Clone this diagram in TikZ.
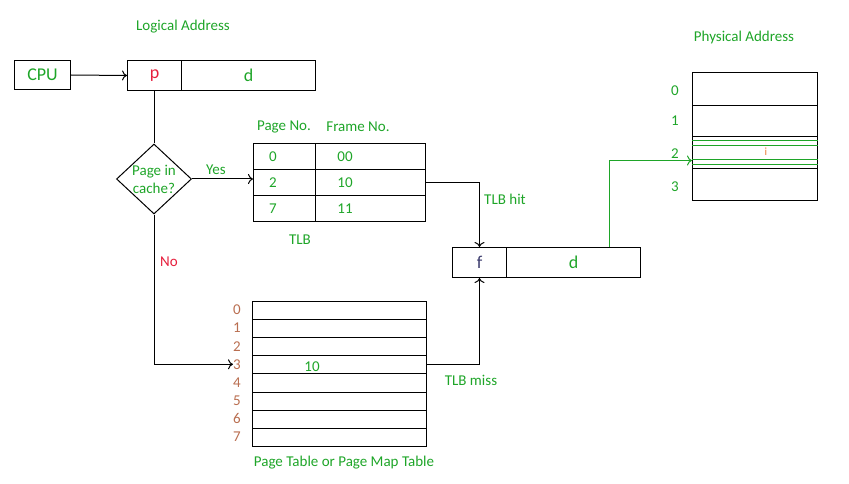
\documentclass[tikz,border=0pt]{standalone}
\usepackage{fontspec}
\setmainfont{Carlito}
\usetikzlibrary{shapes.geometric,arrows.meta}
\definecolor{tgreen}{RGB}{30,165,40}
\definecolor{tred}{RGB}{230,30,60}
\definecolor{tbrown}{RGB}{185,110,80}
\definecolor{fblue}{RGB}{60,60,110}
\definecolor{torange}{RGB}{235,120,50}
\tikzset{
  cell/.style={draw, line width=1pt, anchor=north west, inner sep=0pt},
  lbl/.style={text=tgreen, font=\fontsize{15}{18}\selectfont, inner sep=0pt},
  big/.style={font=\fontsize{18}{20}\selectfont, inner sep=0pt},
  idx/.style={text=tbrown, font=\fontsize{15}{17}\selectfont, inner sep=0pt},
  wire/.style={line width=1pt, ->},
}
\begin{document}
\begin{tikzpicture}[x=1pt, y=-1pt, >={To[length=5pt,width=10pt]}]
\useasboundingbox (0,0) rectangle (849,484);

% ---------- CPU and logical address ----------
\node[cell, big, text=tgreen, minimum width=56pt, minimum height=29pt] (cpu) at (14,60) {CPU};
\node[cell, big, text=tred, minimum width=54pt, minimum height=30pt] (lp) at (127,60) {p};
\node[cell, big, text=tgreen, minimum width=134pt, minimum height=30pt] (ld) at (181,60) {d};
\node[lbl] (logaddr) at (183,27) {Logical Address};
\draw[wire] (cpu.east) -- (lp.west);

% ---------- decision ----------
\node[draw, diamond, line width=1pt, minimum width=75pt, minimum height=70pt, inner sep=0pt] (q) at (154,179) {};
\node[lbl, align=center] (qtxt) at (q) {Page in\\cache?};
\draw[line width=1pt] (lp.south) -- (lp.south |- q.north);

% ---------- TLB ----------
\node[lbl] (hpage) at (284,127) {Page No.};
\node[lbl] (hframe) at (358,127) {Frame No.};
\foreach \i/\p/\f in {0/0/00,1/2/10,2/7/11} {
  \node[cell, minimum width=62pt, minimum height=26pt] (tp\i) at (253,143+26*\i) {};
  \node[cell, minimum width=110pt, minimum height=26pt] (tf\i) at (315,143+26*\i) {};
  \node[lbl] (tpn\i) at ([xshift=20pt]tp\i.west) {\p};
  \node[lbl] (tfn\i) at ([xshift=30pt]tf\i.west) {\f};
}
\node[lbl] (tlbname) at (300,240) {TLB};
\draw[wire] (q.east) -- (q.east -| tp1.west);
\node[lbl] (yes) at (216,170) {Yes};

% ---------- frame + offset ----------
\node[cell, big, text=fblue, minimum width=54pt, minimum height=30pt] (ff) at (452,247) {f};
\node[cell, big, text=tgreen, minimum width=134pt, minimum height=30pt] (fd) at (506,247) {d};
\draw[wire] (tf1.east) -| (ff.north);
\node[lbl] (hit) at (505,199) {TLB hit};

% ---------- page table ----------
\foreach \i in {0,...,7} {
  \node[cell, minimum width=174pt, minimum height=18.1pt] (pt\i) at (252,301+18.1*\i) {};
  \node[idx] (pi\i) at (237,310+18.1*\i) {\i};
}
\node[lbl] (ptval) at (312,367) {10};
\node[lbl] (ptname) at (344,463) {Page Table or Page Map Table};
\draw[wire] (q.south) |- (pi3.west);
\node[lbl, text=tred] (no) at (169,262) {No};
\draw[wire] (pt3.east) -| (ff.south);
\node[lbl] (miss) at (471,380) {TLB miss};

% ---------- physical memory ----------
\node[lbl] (physaddr) at (744,38) {Physical Address};
\node[cell, minimum width=125pt, minimum height=33pt] (m0) at (692,72) {};
\node[cell, minimum width=125pt, minimum height=31pt] (m1) at (692,105) {};
\node[cell, minimum width=125pt, minimum height=32pt] (m2) at (692,136) {};
\node[cell, minimum width=125pt, minimum height=32pt] (m3) at (692,168) {};
\foreach \y in {140,145,159,164}
  \draw[tgreen, line width=0.8pt] (m2.west |- 0,\y) -- (m2.east |- 0,\y);
\foreach \i/\y in {0/91,1/121,2/154,3/187}
  \node[lbl] (mi\i) at (675,\y) {\i};
\node[text=torange, font=\fontsize{11}{12}\selectfont, inner sep=0pt] (off) at (766,152) {i};
\draw[wire, draw=tgreen] ([xshift=36pt]fd.north) |- ([yshift=-8pt]m2.west);

\end{tikzpicture}
\end{document}
